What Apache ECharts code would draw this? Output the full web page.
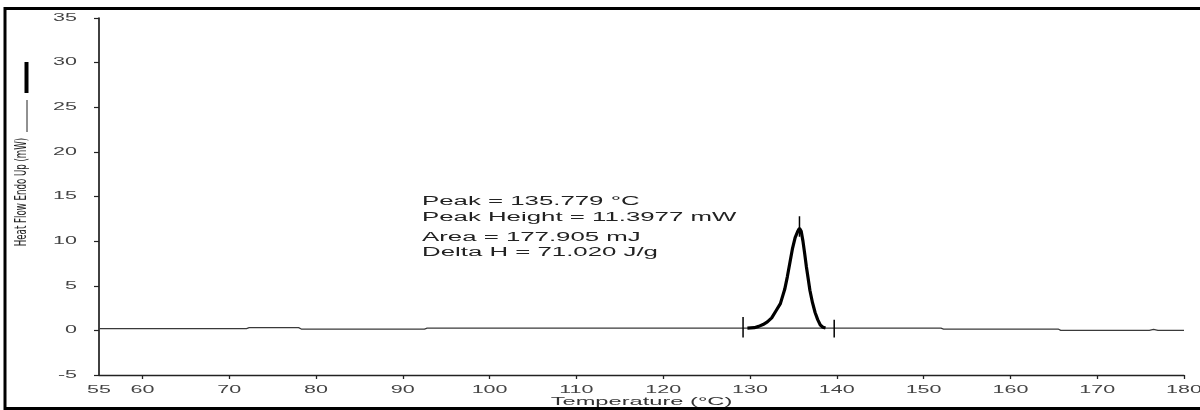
<!DOCTYPE html>
<html>
<head>
<meta charset="utf-8">
<script src="https://cdn.jsdelivr.net/npm/echarts@6/dist/echarts.min.js"></script>
<style>
html,body{margin:0;padding:0;background:#fff;}
#chart{width:1200px;height:410px;}
</style>
</head>
<body>
<div id="chart"></div>
<script>
// ---- data ----
const xTicks = [60, 70, 80, 90, 100, 110, 120, 130, 140, 150, 160, 170, 180];
const xLabels = [55, 60, 70, 80, 90, 100, 110, 120, 130, 140, 150, 160, 170, 180];
const yMin = -5, yMax = 35, yStep = 5;

const baselineTemp = [55, 72, 72.3, 78, 78.3, 92.5, 92.8, 129.7, 138.7, 152, 152.3, 165.5, 165.8, 176, 176.5, 177, 180];
const baselineFlow = [0.2, 0.2, 0.3, 0.3, 0.15, 0.15, 0.25, 0.25, 0.25, 0.25, 0.15, 0.15, 0.0, 0.0, 0.1, 0.0, 0.0];

const peakTemp = [129.7, 130.5, 131, 131.5, 132, 132.5, 133, 133.5, 134, 134.3, 134.6, 134.9, 135.2, 135.5, 135.7, 135.9, 136.1, 136.3, 136.5, 136.7, 136.9, 137.2, 137.5, 137.8, 138.1, 138.4, 138.7];
const peakFlow = [0.25, 0.3, 0.45, 0.65, 0.95, 1.4, 2.2, 3.0, 4.6, 6.0, 7.6, 9.2, 10.4, 11.1, 11.45, 11.1, 10.0, 8.6, 7.1, 5.8, 4.5, 3.1, 2.0, 1.2, 0.6, 0.35, 0.27];

// integration limits and peak marker: [temperature, low, high]
const markerTemp = [129.2, 139.7, 135.7];
const markerLow = [-0.8, -0.8, 10.5];
const markerHigh = [1.5, 1.2, 12.8];

const annotationLines = ['Peak = 135.779 °C', 'Peak Height = 11.3977 mW', 'Area = 177.905 mJ', 'Delta H = 71.020 J/g'];
const yAxisTitle = 'Heat Flow Endo Up (mW)';
const xAxisTitle = 'Temperature (°C)';

// ---- extended-width look of the original plotter font ----
const STRETCH = 2.15;
(function () {
  const proto = CanvasRenderingContext2D.prototype;
  const orig = proto.fillText;
  proto.fillText = function (t, x, y, w) {
    if (!/Liberation Sans/.test(this.font)) return orig.call(this, t, x, y, w);
    this.save();
    this.translate(x, y);
    this.scale(STRETCH, 1);
    if (w === undefined) orig.call(this, t, 0, 0); else orig.call(this, t, 0, 0, w);
    this.restore();
  };
})();

const FONT = 'Liberation Sans';
const chart = echarts.init(document.getElementById('chart'), null, { renderer: 'canvas' });

const series = [
  {
    type: 'line', showSymbol: false, symbol: 'none', animation: false,
    data: baselineTemp.map((t, i) => [t, baselineFlow[i]]),
    lineStyle: { color: '#3a3a3a', width: 1.3 }, z: 2
  },
  {
    type: 'line', showSymbol: false, symbol: 'none', animation: false,
    data: peakTemp.map((t, i) => [t, peakFlow[i]]),
    lineStyle: { color: '#000', width: 3.2 }, z: 3
  }
];
markerTemp.forEach((t, i) => {
  series.push({
    type: 'line', showSymbol: false, symbol: 'none', animation: false,
    data: [[t, markerLow[i]], [t, markerHigh[i]]],
    lineStyle: { color: '#000', width: 1.5 }, z: 4
  });
});

const annoY = [202, 218, 238, 253];
const graphics = [
  { type: 'rect', z: -10, shape: { x: 5, y: 8.5, width: 1200, height: 400 }, style: { fill: 'none', stroke: '#000', lineWidth: 3 }, silent: true },
  { type: 'text', x: 22, y: 192, rotation: Math.PI / 2, scaleX: 0.64,
    style: { text: yAxisTitle, font: '15px "DejaVu Sans Condensed", "DejaVu Sans"', fill: '#222', align: 'center', verticalAlign: 'middle' } },
  { type: 'line', shape: { x1: 27, y1: 100, x2: 27, y2: 132 }, style: { stroke: '#222', lineWidth: 1 } },
  { type: 'line', shape: { x1: 26.5, y1: 62, x2: 26.5, y2: 93 }, style: { stroke: '#000', lineWidth: 4 } }
];
annotationLines.forEach((s, i) => {
  graphics.push({ type: 'text', x: 422, y: annoY[i],
    style: { text: s, font: '12px "Liberation Sans"', fill: '#222', align: 'left', verticalAlign: 'middle' } });
});

chart.setOption({
  animation: false,
  backgroundColor: '#fff',
  grid: { left: 99, right: 16, top: 18, bottom: 35, containLabel: false, outerBoundsMode: 'none' },
  xAxis: {
    type: 'value', min: 55, max: 180, interval: 5,
    name: xAxisTitle, nameLocation: 'middle', nameGap: 21, nameMoveOverlap: false,
    nameTextStyle: { fontFamily: FONT, fontSize: 11, color: '#333' },
    axisLine: { onZero: false, lineStyle: { color: '#222', width: 1.3 } },
    axisTick: { show: true, length: 4, customValues: xTicks, lineStyle: { color: '#222', width: 1.3 } },
    axisLabel: { customValues: xLabels, margin: 10, fontFamily: FONT, fontSize: 10, color: '#444' },
    splitLine: { show: false }
  },
  yAxis: {
    type: 'value', min: yMin, max: yMax, interval: yStep,
    axisLine: { show: true, onZero: false, lineStyle: { color: '#111', width: 1.6 } },
    axisTick: { show: true, length: 5, lineStyle: { color: '#222', width: 1.2 } },
    axisLabel: { margin: 22, fontFamily: FONT, fontSize: 10, color: '#444' },
    splitLine: { show: false }
  },
  series: series,
  graphic: graphics
});
</script>
</body>
</html>
